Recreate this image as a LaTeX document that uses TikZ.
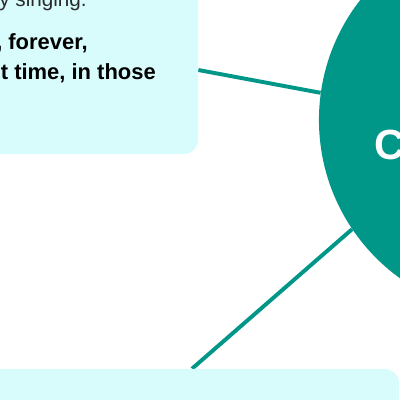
\documentclass[tikz,border=0pt]{standalone}
\usepackage{fontspec}
\setmainfont{Liberation Sans}
\usetikzlibrary{positioning,backgrounds}
\definecolor{mmteal}{HTML}{009688}
\definecolor{boxcyan}{HTML}{D8FCFC}
\definecolor{txtgray}{HTML}{2A2A2A}
\begin{document}
\begin{tikzpicture}[x=0.025cm, y=-0.025cm,
  box/.style={fill=boxcyan, rounded corners=10pt, inner sep=0pt},
  link/.style={draw=mmteal, line width=2.8pt},
  txt/.style={font=\bfseries\fontsize{15.6}{19}\selectfont, inner sep=0pt, anchor=base east}]
  \useasboundingbox (0,0) rectangle (400,400);
  \clip (0,0) rectangle (400,400);
  % boxes and the hub
  \node[box, minimum width=5.7cm, minimum height=4.2cm] (b1) at (84,70) {};
  \node[box, minimum width=10.35cm, minimum height=1.6cm] (b2) at (192,401) {};
  \node[circle, fill=mmteal, minimum size=9.75cm, inner sep=0pt] (hub) at (514,120) {};
  \node[anchor=west, inner sep=0pt, text=white, font=\bfseries\fontsize{30}{36}\selectfont] (hubtxt) at (374,145) {C};
  % text of the upper box
  \node[txt, font=\fontsize{14.7}{18}\selectfont, text=txtgray] (l1) at (87,7) {y singing.};
  \node[txt] (l2) at (88,50) {, forever,};
  \node[txt] (l3) at (156,80) {t time, in those};
  \begin{scope}[on background layer]
    \draw[link] (b1.east) -- (hub.172);
    \draw[link] (hub.214) -- (b2.north);
  \end{scope}
\end{tikzpicture}
\end{document}
